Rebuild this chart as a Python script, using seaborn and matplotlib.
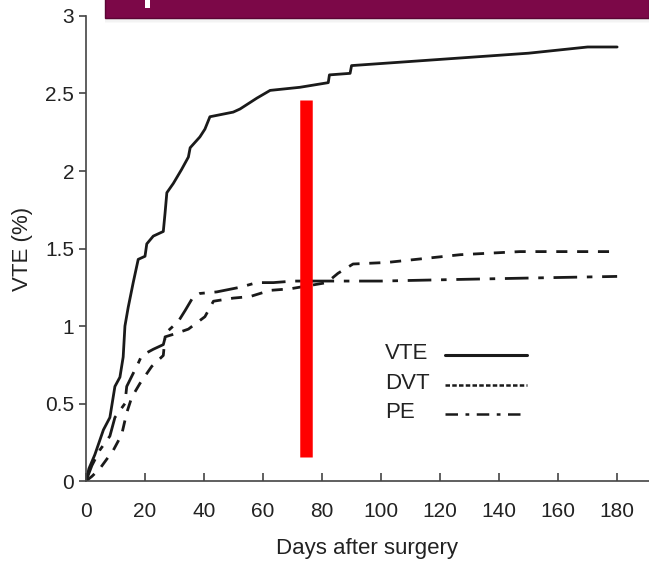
import matplotlib
matplotlib.use("Agg")
import matplotlib.pyplot as plt
import seaborn as sns
import pandas as pd
from matplotlib.patches import Rectangle

# data
vte_days = [0, 1, 3, 5.9, 8.1, 9.8, 11.5, 12.6, 13.2, 14.3, 16, 17.7, 20, 20.6, 22.8, 26.2, 26.8,
            27.4, 29.6, 32.4, 34.7, 35.3, 38.6, 40.3, 42, 49.9, 52.2, 57.9, 62.4, 72.5, 82.1, 82.5,
            89.5, 90, 120, 150, 170, 180]
vte_vals = [0, 0.08, 0.17, 0.33, 0.41, 0.61, 0.67, 0.80, 1.0, 1.12, 1.28, 1.43, 1.45, 1.53, 1.58,
            1.61, 1.73, 1.86, 1.92, 2.01, 2.09, 2.15, 2.22, 2.27, 2.35, 2.38, 2.40, 2.47, 2.52,
            2.54, 2.57, 2.62, 2.63, 2.68, 2.72, 2.76, 2.80, 2.80]

dvt_days = [0, 2, 4.7, 9.3, 12.1, 13.8, 15.5, 18.3, 22.3, 26.2, 26.8, 30.2, 34.7, 40.3, 43.2,
            49.9, 55.6, 62.4, 69.2, 81.6, 85.4, 90.5, 102, 126.8, 147, 180]
dvt_vals = [0, 0.03, 0.08, 0.20, 0.30, 0.44, 0.54, 0.63, 0.74, 0.81, 0.93, 0.95, 0.98, 1.06, 1.16,
            1.18, 1.19, 1.23, 1.24, 1.28, 1.34, 1.40, 1.41, 1.46, 1.48, 1.48]

pe_days = [0, 2, 4.7, 8.1, 9.8, 13.2, 13.8, 17.7, 18.9, 22.8, 26.2, 27.3, 31.3, 33.6, 36.4, 38.6,
           44.3, 52.2, 57.9, 63.5, 70.3, 83.8, 100, 125, 151.6, 180]
pe_vals = [0, 0.1, 0.2, 0.29, 0.41, 0.50, 0.61, 0.76, 0.81, 0.85, 0.88, 0.96, 1.03, 1.10, 1.19,
           1.21, 1.22, 1.25, 1.28, 1.28, 1.29, 1.29, 1.29, 1.30, 1.31, 1.32]

marker_day = 74.6
marker_range = (0.155, 2.46)

labels = ["VTE", "DVT", "PE"]
x_ticks = [0, 20, 40, 60, 80, 100, 120, 140, 160, 180]
y_ticks = [0, 0.5, 1, 1.5, 2, 2.5, 3]
y_ticklabels = ["0", "0.5", "1", "1.5", "2", "2.5", "3"]

sns.set_style("ticks")
plt.rcParams["font.family"] = ["Liberation Sans", "DejaVu Sans"]

fig = plt.figure(figsize=(6.49, 5.63), dpi=100)
ax = fig.add_axes([0.1325, 0.1456, 0.8675, 0.826])

txt = "#222222"
ink = "#1a1a1a"
plot_styles = ["-", (0, (4, 3.5)), (0, (8.5, 3.5, 2, 3.5))]
legend_styles = ["-", (0, (1.8, 0.9)), (0, (5, 3, 1.5, 3))]

for name, d, v, ls in zip(labels, [vte_days, dvt_days, pe_days],
                          [vte_vals, dvt_vals, pe_vals], plot_styles):
    df = pd.DataFrame({"day": d, "val": v})
    sns.lineplot(data=df, x="day", y="val", ax=ax, color=ink, lw=2.0,
                 linestyle=ls, sort=False, estimator=None, legend=False)

ax.vlines(marker_day, marker_range[0], marker_range[1], color="#ff0000", lw=9, zorder=5)

ax.set_xlim(0, 190.8)
ax.set_ylim(0, 3)
ax.set_xticks(x_ticks)
ax.set_xticklabels([str(t) for t in x_ticks])
ax.set_yticks(y_ticks)
ax.set_yticklabels(y_ticklabels)
ax.tick_params(axis="x", direction="in", length=6, width=1.2, colors="#444444",
               labelcolor=txt, labelsize=15, pad=15)
ax.tick_params(axis="y", direction="out", length=5, width=1.2, colors="#444444",
               labelcolor=txt, labelsize=15, pad=3.5)
for s in ["top", "right"]:
    ax.spines[s].set_visible(False)
for s in ["left", "bottom"]:
    ax.spines[s].set_linewidth(1.2)
    ax.spines[s].set_color("#444444")

ax.set_xlabel("Days after surgery", fontsize=16, color=txt, labelpad=12)
ax.set_ylabel("VTE (%)", fontsize=16, color=txt, labelpad=9)

# legend: label on the left, line sample on the right
row_y = [0.275, 0.210, 0.148]
for name, ls, y in zip(labels, legend_styles, row_y):
    ax.text(0.531, y, name, transform=ax.transAxes, fontsize=16, color=txt,
            ha="left", va="center")
    ax.plot([0.638, 0.783], [y - 0.004, y - 0.004], transform=ax.transAxes,
            color=ink, lw=2.2 if ls == "-" else 1.8, linestyle=ls)

# banner at top of the slide
for i, a in enumerate([0.18, 0.12, 0.07, 0.03]):
    fig.patches.append(Rectangle((0.162, 0.968 - (i + 1) * 0.0022), 0.838, 0.0022,
                                 transform=fig.transFigure, color="#555555", alpha=a, lw=0))
fig.patches.append(Rectangle((0.162, 0.968), 0.838, 0.04, transform=fig.transFigure,
                             facecolor="#7c0848", edgecolor="#5a0534", lw=1))
fig.patches.append(Rectangle((0.224, 0.986), 0.007, 0.02, transform=fig.transFigure,
                             color="white", lw=0))

fig.savefig("out.png", dpi=100)
